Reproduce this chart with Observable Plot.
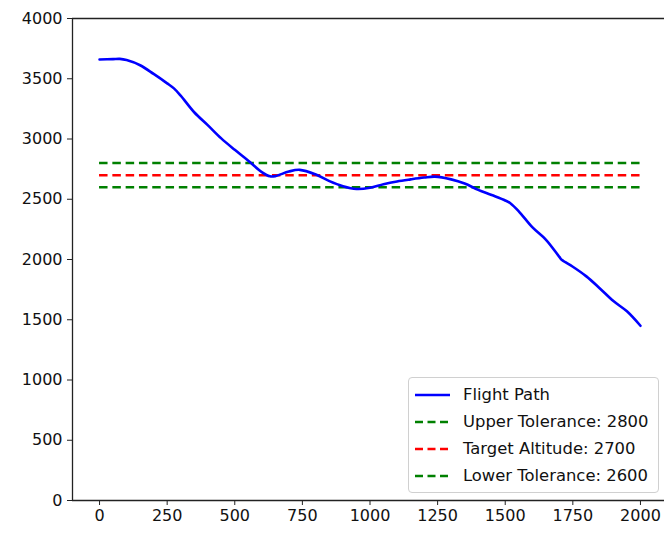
<!DOCTYPE html>
<html>
<head>
<meta charset="utf-8">
<script src="https://cdn.jsdelivr.net/npm/d3@7"></script>
<script src="https://cdn.jsdelivr.net/npm/@observablehq/plot@0.6"></script>
<style>
  html, body { margin: 0; padding: 0; background: #fff; }
  #chart { position: relative; width: 664px; height: 534px; font-family: "DejaVu Sans", sans-serif; }
  #legend {
    position: absolute; left: 408px; top: 377px; width: 251px; height: 116px;
    border: 1px solid #d0d0d0; border-radius: 4px; background: rgba(255,255,255,0.85);
    box-sizing: border-box; padding-top: 3px;
  }
  .row { display: flex; align-items: center; height: 27px; font-size: 16.4px; color: #111; white-space: nowrap; }
  .row svg { margin-left: 6px; margin-right: 13px; }
</style>
</head>
<body>
<div id="chart"><div id="legend"></div></div>
<script>
// Distance along the route and altitude of the flight path
const pathX   = [0, 50, 75, 100, 150, 200, 250, 275, 300, 350, 400, 450, 500, 550, 600, 630, 650, 700, 740, 800, 850, 900, 950, 1000, 1050, 1100, 1150, 1200, 1240, 1300, 1350, 1400, 1450, 1500, 1520, 1550, 1600, 1650, 1700, 1710, 1750, 1800, 1850, 1900, 1950, 2000];
const pathAlt = [3660, 3663, 3665, 3655, 3612, 3540, 3462, 3420, 3360, 3222, 3115, 3005, 2910, 2820, 2725, 2690, 2692, 2730, 2744, 2705, 2650, 2608, 2585, 2595, 2625, 2648, 2665, 2680, 2688, 2665, 2630, 2578, 2535, 2490, 2465, 2400, 2268, 2165, 2022, 1995, 1940, 1860, 1760, 1655, 1570, 1450];

// Reference altitudes
const levelNames  = ["Upper Tolerance: 2800", "Target Altitude: 2700", "Lower Tolerance: 2600"];
const levelValues = [2800, 2700, 2600];
const levelColors = ["#008000", "#ff0000", "#008000"];

const xTicks = [0, 250, 500, 750, 1000, 1250, 1500, 1750, 2000];
const yTicks = [0, 500, 1000, 1500, 2000, 2500, 3000, 3500, 4000];

const flight = pathX.map((x, i) => ({x, alt: pathAlt[i]}));
const levels = levelValues.map((v, i) => ({name: levelNames[i], value: v, color: levelColors[i], x1: pathX[0], x2: pathX[pathX.length - 1]}));

const font = "DejaVu Sans, sans-serif";

const plot = Plot.plot({
  width: 664,
  height: 534,
  marginLeft: 72,
  marginRight: 0,
  marginTop: 18,
  marginBottom: 34,
  style: {fontFamily: font, fontSize: "16px", background: "transparent", color: "#111"},
  x: {domain: [-100, 2100], range: [72, 667]},
  y: {domain: [0, 4000], range: [500, 18]},
  marks: [
    ...levels.map(l => Plot.ruleY([l], {y: "value", x1: "x1", x2: "x2", stroke: l.color, strokeWidth: 2.5, strokeDasharray: "8.5,4.8"})),
    Plot.line(flight, {x: "x", y: "alt", stroke: "#0000ff", strokeWidth: 2.6, curve: "catmull-rom"}),
    Plot.axisX({ticks: xTicks, tickSize: 5, tickPadding: 4, tickFormat: d => String(d), fontSize: 16, label: null, stroke: "#222"}),
    Plot.axisY({ticks: yTicks, tickSize: 5, tickPadding: 5, tickFormat: d => String(d), fontSize: 16, label: null, stroke: "#222"}),
    Plot.ruleY([0], {stroke: "#222", strokeWidth: 1.3}),
    Plot.ruleY([4000], {stroke: "#222", strokeWidth: 1.3}),
    Plot.ruleX([-100], {stroke: "#222", strokeWidth: 1.3})
  ]
});
document.getElementById("chart").prepend(plot);

// Legend entries
const legend = d3.select("#legend");
const entries = [{name: "Flight Path", color: "#0000ff", dash: null}]
  .concat(levels.map(l => ({name: l.name, color: l.color, dash: "8,4.5"})));
entries.forEach(e => {
  const row = legend.append("div").attr("class", "row");
  const s = row.append("svg").attr("width", 35).attr("height", 10);
  s.append("line").attr("x1", 0).attr("x2", 35).attr("y1", 5).attr("y2", 5)
    .attr("stroke", e.color).attr("stroke-width", 2.5)
    .attr("stroke-dasharray", e.dash);
  row.append("span").text(e.name);
});
</script>
</body>
</html>
